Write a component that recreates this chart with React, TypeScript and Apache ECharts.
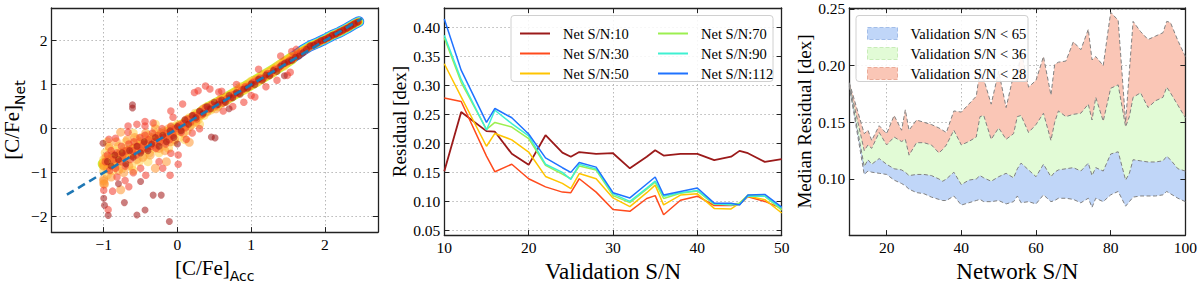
import { useEffect, useRef } from 'react';
import * as echarts from 'echarts';

const FONT = "'Liberation Serif', 'Times New Roman', serif";
const SANS = "'DejaVu Sans', sans-serif";

// ---------- Left panel: [C/Fe]Net vs [C/Fe]Acc ----------
const ridgeFull: number[][] = [[-1.0, -0.8], [-0.7, -0.56], [-0.4, -0.33], [-0.1, -0.08], [0.1, 0.1], [0.4, 0.45], [0.7, 0.72], [1.0, 1.02], [1.3, 1.32], [1.55, 1.6]];
const ridgeUpper: number[][] = [[1.55, 1.6], [1.7, 1.78], [1.8, 1.88], [1.9, 1.95], [2.0, 2.03], [2.1, 2.12], [2.2, 2.19], [2.3, 2.28], [2.4, 2.38], [2.46, 2.43]];
const scatterYellow: number[][] = [
  [-1.0, -0.7], [-1.0, -0.95], [-0.98, -0.55], [-0.95, -1.05], [-0.92, -0.45], [-0.9, -0.75], [-0.88, -0.95], [-0.85, -0.5], [-0.82, -0.85], [-0.8, -0.4],
  [-0.78, -0.65], [-0.75, -0.9], [-0.72, -0.45], [-0.7, -0.3], [-0.68, -0.7], [-0.65, -0.55], [-0.62, -0.85], [-0.6, -0.35], [-0.58, -0.6], [-0.55, -0.25],
  [-0.52, -0.75], [-0.5, -0.45], [-0.48, -0.2], [-0.45, -0.6], [-0.42, -0.35], [-0.4, -0.15], [-0.38, -0.55], [-0.35, -0.3], [-0.32, -0.45], [-0.3, -0.1],
  [-0.28, -0.35], [-0.25, -0.55], [-0.22, -0.2], [-0.2, -0.4], [-0.18, -0.05], [-0.15, -0.25], [-0.12, -0.45], [-0.1, -0.15], [-0.08, 0.05], [-0.05, -0.3],
  [-0.02, -0.1], [0.0, 0.1], [0.03, -0.2], [0.06, 0.0], [0.1, 0.15], [0.13, -0.05], [0.16, 0.25], [0.2, 0.1], [0.24, 0.35], [0.28, 0.2],
  [0.32, 0.4], [0.36, 0.3], [0.4, 0.5], [0.45, 0.42], [0.5, 0.58], [0.55, 0.5], [0.62, 0.6], [0.7, 0.72], [0.78, 0.8], [0.85, 0.95],
  [0.92, 0.88], [1.0, 1.08], [1.08, 1.05], [1.15, 1.18], [1.22, 1.26], [1.3, 1.27], [1.38, 1.45], [1.45, 1.42],
  [-0.95, -0.3], [-0.6, -0.1], [-0.3, 0.1], [-0.6, -0.95], [-0.4, -0.75], [0.1, -0.25], [0.3, 0.1]
];
const scatterOrange: number[][] = [
  [-1.0, -0.85], [-1.0, -1.15], [-1.0, -1.25], [-0.97, -0.65], [-0.95, -0.9], [-0.93, -0.4], [-0.9, -1.1], [-0.88, -0.6], [-0.85, -0.8], [-0.83, -0.3],
  [-0.8, -0.95], [-0.77, -0.08], [-0.77, -0.55], [-0.75, -0.75], [-0.73, -1.0], [-0.7, -0.5], [-0.68, -0.25], [-0.66, -0.85], [-0.63, -0.6], [-0.6, -0.45],
  [-0.58, -0.2], [-0.55, -0.7], [-0.53, -0.5], [-0.5, -0.3], [-0.47, -0.65], [-0.45, -0.45], [-0.43, -0.1], [-0.4, -0.35], [-0.37, -0.6], [-0.35, -0.2],
  [-0.32, -0.4], [-0.3, 0.0], [-0.27, -0.25], [-0.25, -0.45], [-0.22, -0.1], [-0.2, -0.3], [-0.17, -0.5], [-0.15, -0.15], [-0.12, 0.0], [-0.1, -0.3],
  [-0.07, -0.1], [-0.04, -0.25], [0.0, -0.05], [0.04, 0.05], [0.08, -0.1], [0.12, 0.2], [0.16, -0.31], [0.17, 0.05], [0.21, 0.28], [0.25, 0.15],
  [0.3, 0.3], [0.35, 0.45], [0.4, 0.38], [0.46, 0.52], [0.52, 0.45], [0.58, 0.65], [0.66, 0.62], [0.74, 0.76], [0.82, 0.85], [0.9, 0.92],
  [0.98, 0.98], [1.06, 1.1], [1.14, 1.12], [1.24, 1.22], [-0.77, -1.39], [-1.0, -1.19], [-0.99, -1.26], [-0.3, -0.9], [-0.15, -0.75]
];
const scatterRed: number[][] = [
  [-0.98, -0.75], [-0.95, -0.6], [-0.92, -0.95], [-0.9, -0.5], [-0.87, -0.7], [-0.84, -0.9], [-0.82, -0.55], [-0.79, -0.75], [-0.76, -0.4], [-0.74, -0.62],
  [-0.71, -0.85], [-0.69, -0.5], [-0.66, -0.35], [-0.64, -0.7], [-0.61, -0.5], [-0.59, -0.3], [-0.56, -0.6], [-0.54, -0.4], [-0.51, -0.2], [-0.49, -0.5],
  [-0.46, -0.35], [-0.44, -0.15], [-0.41, -0.45], [-0.39, -0.25], [-0.36, -0.4], [-0.34, -0.1], [-0.31, -0.3], [-0.29, -0.45], [-0.26, -0.15], [-0.24, -0.3],
  [-0.21, 0.0], [-0.19, -0.2], [-0.16, -0.35], [-0.14, -0.1], [-0.11, -0.25], [-0.09, 0.05], [-0.06, -0.15], [-0.03, 0.0], [0.02, 0.08], [0.05, -0.08],
  [0.08, 0.12], [0.11, 0.02], [0.14, 0.22], [0.18, 0.15], [0.22, 0.3], [0.26, 0.22], [0.3, 0.38], [0.34, 0.32], [0.38, 0.48], [0.42, 0.44],
  [0.47, 0.55], [0.52, 0.52], [0.57, 0.62], [0.62, 0.58], [0.67, 0.68], [0.72, 0.7], [0.77, 0.78], [0.82, 0.8], [0.87, 0.88], [0.92, 0.95],
  [0.97, 0.95], [1.02, 1.05], [1.07, 1.08], [1.12, 1.15], [1.17, 1.15], [1.22, 1.25], [1.27, 1.25], [1.32, 1.35], [1.37, 1.38], [1.42, 1.45],
  [1.47, 1.5], [1.52, 1.55], [1.57, 1.58], [1.62, 1.65], [1.67, 1.7], [1.72, 1.75], [1.78, 1.83], [1.83, 1.88], [1.88, 1.92], [1.93, 1.97],
  [1.98, 2.01], [2.03, 2.05], [2.08, 2.1], [2.13, 2.14], [2.18, 2.18], [2.23, 2.22], [2.28, 2.27], [2.33, 2.31], [2.38, 2.36], [2.43, 2.41],
  [-0.94, -1.84], [-0.88, -1.42], [-0.66, -1.32], [-0.71, -1.18], [-0.43, -1.06], [-0.1, -1.06], [0.01, -0.81], [0.01, -0.6], [-0.09, -0.56], [0.12, -0.24],
  [0.38, 0.97], [0.23, 0.82], [0.07, 0.56], [-0.09, 0.4], [-0.06, 0.26], [-0.33, 0.13], [-0.44, 0.06], [-0.67, 0.06], [-0.67, -0.08], [-0.55, 0.1],
  [-0.44, 0.16], [-0.93, -0.24], [-0.84, -0.22], [1.61, 1.8], [1.53, 1.28], [1.49, 1.21], [1.05, 0.72], [0.56, 0.83], [0.44, 0.9], [0.28, 0.86],
  [-1.0, -1.4], [-0.82, -1.1], [-0.6, -1.0], [-0.5, -0.9], [-0.25, -0.75], [-0.2, -0.9], [0.2, -0.1], [0.3, 0.0], [0.62, 0.4], [0.75, 0.5],
  [0.9, 0.6], [1.0, 0.75], [1.2, 0.95], [1.35, 1.1], [1.4, 1.65], [1.55, 1.75], [0.6, 0.85], [0.8, 1.0], [1.1, 1.35]
];
const scatterDarkRed: number[][] = [
  [-0.95, -0.75], [-0.9, -0.85], [-0.85, -0.6], [-0.8, -0.7], [-0.75, -0.55], [-0.7, -0.8], [-0.65, -0.5], [-0.6, -0.65], [-0.55, -0.4], [-0.5, -0.55],
  [-0.45, -0.3], [-0.4, -0.5], [-0.35, -0.35], [-0.3, -0.2], [-0.25, -0.4], [-0.2, -0.15], [-0.15, -0.3], [-0.1, -0.05], [-0.05, -0.2], [0.0, 0.05],
  [0.05, -0.05], [0.1, 0.2], [0.15, 0.1], [0.2, 0.3], [0.25, 0.25], [0.3, 0.4], [0.35, 0.35], [0.4, 0.5], [0.45, 0.45], [0.5, 0.6],
  [0.55, 0.55], [0.6, 0.65], [0.65, 0.6], [0.7, 0.75], [0.75, 0.7], [0.8, 0.82], [0.85, 0.78], [0.9, 0.9], [0.95, 0.92], [1.0, 1.02],
  [1.05, 1.0], [1.1, 1.12], [1.15, 1.1], [1.2, 1.22], [1.25, 1.2], [1.3, 1.32], [1.35, 1.3], [1.4, 1.42], [1.45, 1.48], [1.5, 1.52],
  [1.55, 1.55], [1.6, 1.62], [1.65, 1.65], [1.7, 1.72], [1.75, 1.8], [1.8, 1.88], [1.85, 1.9], [1.9, 1.95], [1.95, 2.0], [2.0, 2.03],
  [2.05, 2.07], [2.1, 2.12], [2.15, 2.15], [2.2, 2.2], [2.25, 2.24], [2.3, 2.28], [2.35, 2.33], [2.4, 2.38], [2.45, 2.42],
  [-0.61, 0.54], [-0.61, 0.47], [-0.99, -1.74], [-0.94, -1.97], [-0.72, -1.68], [-0.55, -1.96], [-0.44, -1.85], [-0.11, -2.11], [-0.33, -1.51], [-0.22, -1.51],
  [0.51, -0.21], [-1.0, -1.58], [0.46, -0.19], [-1.01, -0.33], [-0.8, -1.25], [-0.5, -1.2], [0.0, -0.35], [1.45, 1.2], [0.7, 0.45]
];
const oneToOne: number[][] = [[-1.5, -1.5], [2.5, 2.5]];

// ---------- Middle panel: Residual vs Validation S/N ----------
const validationSN = [10, 12, 15, 16, 18, 20, 22, 24, 25, 26, 28, 30, 32, 34, 35, 36, 38, 40, 42, 44, 45, 46, 48, 50];
const resNet10 = [0.152, 0.254, 0.221, 0.220, 0.182, 0.163, 0.214, 0.184, 0.177, 0.185, 0.182, 0.183, 0.157, 0.177, 0.188, 0.179, 0.182, 0.182, 0.171, 0.177, 0.187, 0.183, 0.168, 0.173];
const resNet30 = [0.278, 0.272, 0.178, 0.151, 0.164, 0.139, 0.125, 0.116, 0.115, 0.139, 0.116, 0.086, 0.083, 0.105, 0.110, 0.077, 0.102, 0.109, 0.093, 0.093, 0.095, 0.108, 0.100, 0.088];
const resNet50 = [0.337, 0.280, 0.195, 0.217, 0.206, 0.185, 0.143, 0.131, 0.122, 0.148, 0.139, 0.106, 0.091, 0.115, 0.128, 0.094, 0.111, 0.113, 0.088, 0.087, 0.097, 0.109, 0.103, 0.080];
const resNet70 = [0.382, 0.305, 0.224, 0.236, 0.228, 0.208, 0.162, 0.147, 0.139, 0.161, 0.154, 0.110, 0.098, 0.121, 0.133, 0.105, 0.114, 0.118, 0.095, 0.095, 0.097, 0.111, 0.109, 0.085];
const resNet90 = [0.386, 0.310, 0.223, 0.257, 0.234, 0.213, 0.164, 0.150, 0.138, 0.164, 0.156, 0.113, 0.100, 0.123, 0.135, 0.109, 0.115, 0.119, 0.096, 0.094, 0.095, 0.109, 0.109, 0.088];
const resNet112 = [0.414, 0.326, 0.236, 0.260, 0.244, 0.216, 0.175, 0.158, 0.150, 0.167, 0.159, 0.115, 0.106, 0.130, 0.142, 0.111, 0.117, 0.123, 0.097, 0.097, 0.094, 0.111, 0.112, 0.090];
const netNames = ['Net S/N:10', 'Net S/N:30', 'Net S/N:50', 'Net S/N:70', 'Net S/N:90', 'Net S/N:112'];
const netColors = ['#9b1a1a', '#ff4a1c', '#ffc400', '#9cef50', '#3ff0d2', '#1f72ff'];

// ---------- Right panel: Median residual vs Network S/N ----------
const networkSN = [10, 14, 15, 16, 18, 20, 22, 24, 25, 26, 28, 30, 32, 34, 35, 36, 38, 40, 42, 44, 45, 46, 48, 50, 52, 54, 55, 56, 58, 60, 62, 64, 65, 66, 68, 70, 72, 74, 75, 76, 78, 80, 82, 84, 85, 86, 88, 90, 92, 94, 95, 96, 98, 100];
const bandBottom = [0.182, 0.104, 0.107, 0.106, 0.105, 0.104, 0.099, 0.096, 0.094, 0.091, 0.088, 0.087, 0.084, 0.082, 0.081, 0.081, 0.085, 0.077, 0.079, 0.081, 0.082, 0.080, 0.080, 0.081, 0.078, 0.080, 0.085, 0.079, 0.080, 0.078, 0.086, 0.080, 0.081, 0.083, 0.083, 0.082, 0.079, 0.083, 0.075, 0.083, 0.080, 0.086, 0.089, 0.076, 0.080, 0.084, 0.085, 0.085, 0.085, 0.086, 0.089, 0.087, 0.083, 0.080];
const band65Top = [0.183, 0.111, 0.117, 0.113, 0.118, 0.113, 0.109, 0.108, 0.106, 0.103, 0.104, 0.104, 0.103, 0.100, 0.098, 0.100, 0.106, 0.095, 0.099, 0.100, 0.103, 0.101, 0.098, 0.102, 0.105, 0.101, 0.109, 0.114, 0.108, 0.102, 0.113, 0.102, 0.106, 0.108, 0.109, 0.110, 0.107, 0.114, 0.103, 0.110, 0.107, 0.122, 0.124, 0.099, 0.105, 0.117, 0.116, 0.115, 0.115, 0.116, 0.120, 0.117, 0.109, 0.107];
const band36Top = [0.184, 0.125, 0.130, 0.127, 0.141, 0.130, 0.137, 0.133, 0.135, 0.121, 0.132, 0.132, 0.130, 0.123, 0.126, 0.130, 0.143, 0.130, 0.133, 0.137, 0.155, 0.156, 0.135, 0.145, 0.135, 0.140, 0.155, 0.156, 0.141, 0.148, 0.158, 0.134, 0.150, 0.160, 0.155, 0.157, 0.158, 0.166, 0.152, 0.172, 0.151, 0.180, 0.183, 0.146, 0.155, 0.172, 0.176, 0.163, 0.169, 0.172, 0.181, 0.176, 0.165, 0.154];
const band28Top = [0.185, 0.140, 0.143, 0.134, 0.147, 0.140, 0.156, 0.143, 0.161, 0.143, 0.152, 0.150, 0.148, 0.145, 0.143, 0.141, 0.160, 0.159, 0.166, 0.173, 0.196, 0.188, 0.166, 0.195, 0.163, 0.192, 0.189, 0.214, 0.181, 0.187, 0.208, 0.174, 0.201, 0.203, 0.204, 0.221, 0.214, 0.232, 0.205, 0.208, 0.200, 0.247, 0.240, 0.150, 0.195, 0.239, 0.230, 0.223, 0.226, 0.229, 0.239, 0.238, 0.222, 0.208];
const bandNames = ['Validation S/N < 65', 'Validation S/N < 36', 'Validation S/N < 28'];
const bandColors = ['#c0d6f8', '#e2fbd6', '#fac6b6'];
const bandEdge = ['#a2bde8', '#c8ecb8', '#eaab98'];

const tickText = { fontFamily: FONT, fontSize: 15.5, color: '#000' };
const titleText = { fontFamily: FONT, fontSize: 23, color: '#000' };
const yTitleText = { fontFamily: FONT, fontSize: 19, color: '#000' };

const fmtInt = (v: number) => v.toFixed(0).replace('-', '\u2212');
const fmt2 = (v: number) => v.toFixed(2);

function mainAxis(o: any) {
  return {
    type: 'value', gridIndex: o.grid, position: o.position, min: o.min, max: o.max,
    minInterval: o.step, maxInterval: o.step, z: o.z ?? 0,
    axisLine: { show: true, onZero: false, lineStyle: { color: '#222', width: 1.3 } },
    axisTick: { show: true, inside: true, length: 5, lineStyle: { color: '#222', width: 1 } },
    axisLabel: { show: true, margin: 4, formatter: o.fmt, showMinLabel: o.showMin, showMaxLabel: o.showMax, ...tickText },
    splitLine: { show: true, lineStyle: { color: '#b8b8b8', type: [1.5, 2.5], width: 1 } },
    name: o.name, nameLocation: 'middle', nameGap: o.nameGap, nameRotate: o.nameRotate,
    nameTextStyle: o.nameTextStyle,
  };
}
function mirrorAxis(o: any) {
  return {
    type: 'value', gridIndex: o.grid, position: o.position, min: o.min, max: o.max,
    minInterval: o.step, maxInterval: o.step, z: o.z ?? 0,
    axisLine: { show: true, onZero: false, lineStyle: { color: '#222', width: 1.3 } },
    axisTick: { show: true, inside: true, length: 5, lineStyle: { color: '#222', width: 1 } },
    axisLabel: { show: false },
    splitLine: { show: false },
  };
}

function buildOption(): any {
  const L = { min: -1.71, max: 2.72 };
  const LY = { min: -2.35, max: 2.74 };
  const M = { min: 10, max: 50 };
  const MY = { min: 0.042, max: 0.433 };
  const R = { min: 10, max: 100 };
  const RY = { min: 0.0505, max: 0.2508 };
  const subRich = {
    a: { fontFamily: FONT, fontSize: 21, color: '#000', verticalAlign: 'bottom', padding: [0, 0, 5, 0] },
    b: { fontFamily: SANS, fontSize: 14, color: '#000', verticalAlign: 'bottom' },
  };

  const xAxis = [
    mainAxis({ grid: 0, position: 'bottom', ...L, step: 1, fmt: fmtInt, showMin: false, showMax: false,
      name: '{a|[C/Fe]}{b|Acc}', nameGap: 13, nameTextStyle: { rich: subRich } }),
    mirrorAxis({ grid: 0, position: 'top', ...L, step: 1 }),
    mainAxis({ grid: 1, position: 'bottom', ...M, step: 10, fmt: fmtInt, showMin: true, showMax: true,
      name: 'Validation S/N', nameGap: 13, nameTextStyle: titleText }),
    mirrorAxis({ grid: 1, position: 'top', ...M, step: 10 }),
    mainAxis({ grid: 2, position: 'bottom', ...R, step: 20, fmt: fmtInt, showMin: false, showMax: true,
      name: 'Network S/N', nameGap: 13, nameTextStyle: titleText, z: 3 }),
    mirrorAxis({ grid: 2, position: 'top', ...R, step: 20, z: 3 }),
  ];
  const yAxis = [
    mainAxis({ grid: 0, position: 'left', ...LY, step: 1, fmt: fmtInt, showMin: false, showMax: false,
      name: '{a|[C/Fe]}{b|Net}', nameGap: 13, nameRotate: 90, nameTextStyle: { rich: subRich } }),
    mirrorAxis({ grid: 0, position: 'right', ...LY, step: 1 }),
    mainAxis({ grid: 1, position: 'left', ...MY, step: 0.05, fmt: fmt2, showMin: false, showMax: false,
      name: 'Residual [dex]', nameGap: 25, nameRotate: 90, nameTextStyle: yTitleText }),
    mirrorAxis({ grid: 1, position: 'right', ...MY, step: 0.05 }),
    mainAxis({ grid: 2, position: 'left', ...RY, step: 0.05, fmt: fmt2, showMin: false, showMax: false,
      name: 'Median Residual [dex]', nameGap: 29, nameRotate: 90, nameTextStyle: yTitleText, z: 3 }),
    mirrorAxis({ grid: 2, position: 'right', ...RY, step: 0.05, z: 3 }),
  ];

  const ridge = (data: number[][], color: string, width: number) => ({
    type: 'line', xAxisIndex: 0, yAxisIndex: 0, data, symbol: 'none', silent: true, z: 1,
    lineStyle: { color, width, cap: 'round', join: 'round' },
  });
  const scat = (data: number[][], color: string, size: number, opacity: number) => ({
    type: 'scatter', xAxisIndex: 0, yAxisIndex: 0, data, symbolSize: size, silent: true,
    itemStyle: { color, opacity },
  });

  const series: any[] = [
    ridge(ridgeUpper, '#2a6cff', 11),
    ridge(ridgeUpper, '#35e6e0', 9.5),
    ridge(ridgeFull, '#c8f040', 12),
    ridge(ridgeUpper, '#d8f040', 8),
    ridge(ridgeFull, '#ffc020', 10),
    ridge(ridgeUpper, '#ff9a10', 6.5),
    scat(scatterYellow, '#ffd24a', 9, 0.55),
    scat(scatterOrange, '#ff9530', 9, 0.55),
    scat(scatterRed, '#f2382a', 7.5, 0.55),
    scat(scatterDarkRed, '#a01212', 7, 0.55),
    {
      type: 'line', xAxisIndex: 0, yAxisIndex: 0, data: oneToOne, symbol: 'none', silent: true, z: 3,
      lineStyle: { color: '#1f77b4', width: 2.6, type: [8, 5] },
    },
  ];

  const netData = [resNet10, resNet30, resNet50, resNet70, resNet90, resNet112];
  netData.forEach((vals, i) => {
    series.push({
      type: 'line', name: netNames[i], xAxisIndex: 2, yAxisIndex: 2, symbol: 'none',
      data: validationSN.map((x, j) => [x, vals[j]]),
      itemStyle: { color: netColors[i] },
      lineStyle: { color: netColors[i], width: i === 0 ? 1.8 : 1.5 },
    });
  });

  // Right panel bands: painted from the top edge down, each filled to the axis bottom,
  // the lowest edge filled white so only the bands between edges remain.
  const dashed = { color: '#808080', width: 1, type: [4, 2.5] };
  const edges = [band28Top, band36Top, band65Top, bandBottom];
  const fills = [bandColors[2], bandColors[1], bandColors[0], '#ffffff'];
  const edgeNames = [bandNames[2], bandNames[1], bandNames[0], 'lowerEdge'];
  edges.forEach((vals, i) => {
    series.push({
      type: 'line', name: edgeNames[i], xAxisIndex: 4, yAxisIndex: 4, symbol: 'none',
      data: networkSN.map((x, j) => [x, vals[j]]),
      lineStyle: dashed, itemStyle: { color: fills[i] },
      areaStyle: { color: fills[i], opacity: 1, origin: 'start' },
    });
  });

  const legendText = { fontFamily: FONT, fontSize: 14.5, color: '#000', padding: [0, 0, 0, 8], lineHeight: 15 };
  const legend = [
    {
      orient: 'vertical', left: 515, top: 21, itemWidth: 30, itemHeight: 2, itemGap: 5, icon: 'rect', z: 6,
      data: netNames.slice(0, 3), textStyle: legendText, selectedMode: false,
    },
    {
      orient: 'vertical', left: 653, top: 21, itemWidth: 30, itemHeight: 2, itemGap: 5, icon: 'rect', z: 6,
      data: netNames.slice(3), textStyle: legendText, selectedMode: false,
    },
    {
      orient: 'vertical', left: 862, top: 21, itemWidth: 30, itemHeight: 12, itemGap: 5, z: 6,
      data: bandNames.map((n, i) => ({ name: n, icon: 'rect', itemStyle: { color: bandColors[i], borderColor: bandEdge[i], borderWidth: 1, borderType: 'dashed' } })),
      textStyle: legendText, selectedMode: false,
    },
  ];

  const graphic = [
    { type: 'rect', z: 5, shape: { x: 511, y: 15.5, width: 262, height: 66, r: 3 }, style: { fill: 'rgba(255,255,255,0.85)', stroke: '#d0d0d0', lineWidth: 1 } },
    { type: 'rect', z: 5, shape: { x: 856, y: 15.5, width: 172, height: 66, r: 3 }, style: { fill: 'rgba(255,255,255,0.85)', stroke: '#d0d0d0', lineWidth: 1 } },
  ];

  return {
    animation: false,
    backgroundColor: '#ffffff',
    grid: [
      { left: 38, top: 8, width: 340, height: 244 },
      { left: 444.3, top: 8, width: 337.4, height: 244 },
      { left: 849.3, top: 8, width: 337.4, height: 244 },
    ],
    xAxis, yAxis, series, legend, graphic,
  };
}

export default function App() {
  const ref = useRef<HTMLDivElement>(null);
  useEffect(() => {
    document.body.style.margin = '0';
    const chart = echarts.init(ref.current as HTMLDivElement, null, { renderer: 'svg' });
    chart.setOption(buildOption());
    return () => chart.dispose();
  }, []);
  return <div ref={ref} style={{ width: 1200, height: 288 }} />;
}
